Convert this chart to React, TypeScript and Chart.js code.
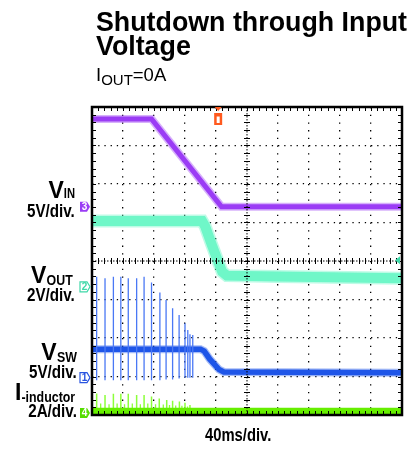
import React, { useEffect, useRef } from "react";
import { Chart, registerables } from "chart.js";
Chart.register(...registerables);

// ---- data (in scope divisions: x 0..10, y 0..8) ----
const vinX = [0, 1.92, 4.18, 10];
const vinY = [7.69, 7.69, 5.41, 5.41];

const voutX = [0, 3.55, 3.65, 3.85, 4.06, 4.2, 4.35, 6, 10];
const voutY = [5.04, 5.04, 4.9, 4.45, 4.0, 3.72, 3.62, 3.6, 3.55];

const vswX = [0, 3.5, 3.62, 3.8, 4.1, 4.25, 10];
const vswY = [1.71, 1.71, 1.66, 1.45, 1.18, 1.12, 1.1];

const vswSpikeX = [0.15, 0.42, 0.69, 0.93, 1.17, 1.44, 1.68, 1.92, 2.19, 2.39, 2.6, 2.81, 3.0, 3.09, 3.16, 3.25];
const vswSpikeTop = [3.59, 3.55, 3.59, 3.59, 3.55, 3.55, 3.59, 3.44, 3.18, 2.99, 2.77, 2.6, 2.38, 2.21, 2.1, 2.08];
const vswSpikeBottom = [0.9, 0.9, 0.9, 0.9, 0.9, 0.9, 0.9, 0.9, 0.9, 0.92, 0.92, 0.95, 0.97, 0.97, 0.97, 0.97];

const ilX = [0, 10];
const ilY = [0.1, 0.1];
const ilSpikeX = [0.15, 0.42, 0.69, 0.93, 1.17, 1.44, 1.68, 1.92, 2.17, 2.41, 2.6, 2.82, 3.0, 3.16];
const ilSpikeTop = [0.56, 0.52, 0.55, 0.55, 0.55, 0.52, 0.52, 0.48, 0.43, 0.39, 0.37, 0.35, 0.32, 0.26];
const ilSmallX = [0.28, 0.55, 0.81, 1.05, 1.3, 1.56, 1.8, 2.05, 2.3, 2.5, 2.7, 2.9, 3.08];
const ilSmallTop = [0.3, 0.28, 0.3, 0.28, 0.3, 0.28, 0.3, 0.28, 0.27, 0.26, 0.25, 0.24, 0.22];

// channel ground markers (y in divisions) and trigger position
const markerLabels = ["3", "2", "1", "4"];
const markerY = [5.41, 3.33, 0.97, 0.05];
const markerColors = ["#9b3cf5", "#3fd8a8", "#2a55e0", "#55dd00"];
const markerFilled = [true, false, false, true];
const triggerX = 4.07;
const trigLevelY = 4.02;

const PURPLE = "#9b3cf5";
const TEAL = "#6ff7c8";
const BLUE = "#1f55e8";
const BLUE_SPIKE = "#4a78f5";
const GREEN = "#66ee00";
const GREEN_SPIKE = "#8cff3a";

const zip = (xs: number[], ys: number[]) => xs.map((x, i) => ({ x, y: ys[i] }));
const spikes = (xs: number[], bot: number[] | number, top: number[]) => {
  const out: any[] = [];
  xs.forEach((x, i) => {
    out.push({ x, y: Array.isArray(bot) ? bot[i] : bot });
    out.push({ x, y: top[i] });
    out.push({ x, y: null });
  });
  return out;
};

const FONT = '"Liberation Sans", Arial, Helvetica, sans-serif';
const COND = 0.8;

const scopePlugin = {
  id: "scope",
  afterDraw(chart: any) {
    const { ctx, chartArea: a, scales } = chart;
    const xs = scales.x, ys = scales.y;
    ctx.save();
    ctx.strokeStyle = "#000";
    ctx.lineWidth = 1;
    const cx = xs.getPixelForValue(5);
    const cy = ys.getPixelForValue(4);
    ctx.setLineDash([1.5, 1.5]);
    ctx.beginPath();
    ctx.moveTo(cx, a.top); ctx.lineTo(cx, a.bottom);
    ctx.moveTo(a.left, cy); ctx.lineTo(a.right, cy);
    ctx.stroke();
    ctx.setLineDash([]);
    ctx.beginPath();
    for (let v = 0.2; v < 8; v += 0.2) {
      const py = Math.round(ys.getPixelForValue(v)) + 0.5;
      ctx.moveTo(cx - 3, py); ctx.lineTo(cx + 3, py);
      ctx.moveTo(a.left, py); ctx.lineTo(a.left + 4, py);
      ctx.moveTo(a.right - 4, py); ctx.lineTo(a.right, py);
    }
    for (let v = 0.2; v < 10; v += 0.2) {
      const px = Math.round(xs.getPixelForValue(v)) + 0.5;
      ctx.moveTo(px, cy - 3); ctx.lineTo(px, cy + 3);
      ctx.moveTo(px, a.top); ctx.lineTo(px, a.top + 4);
      ctx.moveTo(px, a.bottom - 4); ctx.lineTo(px, a.bottom);
    }
    ctx.stroke();
    ctx.lineWidth = 2.5;
    ctx.strokeRect(a.left, a.top, a.right - a.left, a.bottom - a.top);

    ctx.font = `bold 10px ${FONT}`;
    ctx.textAlign = "center";
    ctx.textBaseline = "middle";
    markerY.forEach((v, i) => {
      const py = ys.getPixelForValue(v);
      const x0 = a.left - 12, x1 = a.left - 5, tip = a.left - 2;
      ctx.beginPath();
      ctx.moveTo(x0, py - 5); ctx.lineTo(x1, py - 5); ctx.lineTo(tip, py);
      ctx.lineTo(x1, py + 5); ctx.lineTo(x0, py + 5); ctx.closePath();
      ctx.lineWidth = 1.2;
      if (markerFilled[i]) {
        ctx.fillStyle = markerColors[i]; ctx.fill();
        ctx.fillStyle = "#ffffff";
      } else {
        ctx.fillStyle = "#ffffff"; ctx.fill();
        ctx.strokeStyle = markerColors[i]; ctx.stroke();
        ctx.fillStyle = markerColors[i];
      }
      ctx.fillText(markerLabels[i], x0 + 4.5, py + 0.5);
    });

    const tx = xs.getPixelForValue(triggerX);
    ctx.fillStyle = "#ff5a1f";
    ctx.beginPath();
    ctx.moveTo(tx - 3.5, a.top); ctx.lineTo(tx + 3.5, a.top); ctx.lineTo(tx, a.top + 4); ctx.closePath();
    ctx.fill();
    ctx.fillRect(tx - 4, a.top + 6, 8, 12);
    ctx.fillStyle = "#ffffff";
    ctx.fillRect(tx - 1.5, a.top + 9, 3, 7);
    ctx.fillStyle = "#ff5a1f";
    ctx.fillRect(tx - 2.5, a.top + 8, 5, 1.5);

    const ly = ys.getPixelForValue(trigLevelY);
    ctx.fillStyle = "#3fd8a8";
    ctx.beginPath();
    ctx.moveTo(a.right - 2, ly - 4); ctx.lineTo(a.right - 7, ly); ctx.lineTo(a.right - 2, ly + 4); ctx.closePath();
    ctx.fill();
    ctx.restore();
  },
};

function Txt({ x, base, size, bold = true, align = "left", scale = 1, children }: any) {
  const style: any = {
    position: "absolute",
    top: base - 0.8465 * size,
    fontSize: size,
    lineHeight: `${size}px`,
    fontWeight: bold ? 700 : 400,
    fontFamily: FONT,
    whiteSpace: "nowrap",
    color: "#000",
  };
  if (align === "left") style.left = x;
  else style.right = 418 - x;
  if (scale !== 1) {
    style.transform = `scaleX(${scale})`;
    style.transformOrigin = align === "left" ? "left center" : "right center";
  }
  return <div style={style}>{children}</div>;
}

// em widths (Arial/Liberation Sans Bold) of the condensed subscripts
const SUB_EM: Record<string, number> = { IN: 1.0, OUT: 2.111, SW: 1.611, "-inductor": 4.333 };

function ChanLabel({ right, base, main, sub, subSize, shift }: any) {
  const w = SUB_EM[sub] * subSize * COND;
  return (
    <>
      <Txt x={right - w} base={base} size={23} align="right">{main}</Txt>
      <Txt x={right} base={base + shift} size={subSize} align="right" scale={COND}>{sub}</Txt>
    </>
  );
}

export default function App() {
  const ref = useRef<HTMLCanvasElement>(null);
  useEffect(() => {
    const c = ref.current!;
    const line = (data: any[], color: string, width: number, extra: any = {}) => ({
      data, borderColor: color, borderWidth: width, pointRadius: 0, fill: false,
      tension: 0, spanGaps: false, borderCapStyle: "butt", ...extra,
    });
    const chart = new Chart(c, {
      type: "line",
      data: {
        datasets: [
          line(zip(ilX, ilY), GREEN, 7),
          line(spikes(ilSmallX, 0.1, ilSmallTop), GREEN_SPIKE, 1.3),
          line(spikes(ilSpikeX, 0.1, ilSpikeTop), GREEN_SPIKE, 1.5),
          line(zip(vinX, vinY), "rgba(155,60,245,0.4)", 8),
          line(zip(vinX, vinY), PURPLE, 5),
          line(zip(voutX, voutY), "rgba(111,247,200,0.45)", 13),
          line(zip(voutX, voutY), TEAL, 10),
          line(spikes(vswSpikeX, vswSpikeBottom, vswSpikeTop), BLUE_SPIKE, 1.3),
          line(zip(vswX, vswY), "rgba(31,85,232,0.4)", 8),
          line(zip(vswX, vswY), BLUE, 5.5),
        ] as any,
      },
      options: {
        animation: false,
        responsive: false,
        events: [],
        layout: { padding: { left: 92, top: 107, right: 16, bottom: 34 } },
        plugins: { legend: { display: false }, tooltip: { enabled: false }, title: { display: false } },
        scales: {
          x: {
            type: "linear", min: 0, max: 10, z: 1,
            ticks: { display: false, stepSize: 1 },
            grid: {
              drawTicks: false, lineWidth: 1.3,
              color: (ctx: any) => (ctx.tick && (ctx.tick.value === 0 || ctx.tick.value === 5 || ctx.tick.value === 10) ? "rgba(0,0,0,0)" : "#000"),
            },
            border: { display: false, dash: [1.3, 6.4] },
          },
          y: {
            type: "linear", min: 0, max: 8, z: 1,
            ticks: { display: false, stepSize: 1 },
            grid: {
              drawTicks: false, lineWidth: 1.3,
              color: (ctx: any) => (ctx.tick && (ctx.tick.value === 0 || ctx.tick.value === 4 || ctx.tick.value === 8) ? "rgba(0,0,0,0)" : "#000"),
            },
            border: { display: false, dash: [1.3, 4.9] },
          },
        },
      } as any,
      plugins: [scopePlugin],
    });
    return () => chart.destroy();
  }, []);

  return (
    <div style={{ position: "absolute", left: 0, top: 0, width: 418, height: 449, background: "#fff" }}>
      <canvas ref={ref} width={418} height={449} style={{ position: "absolute", left: 0, top: 0, width: 418, height: 449 }} />
      <Txt x={96} base={31.7} size={26.8}>Shutdown through Input</Txt>
      <Txt x={96} base={55.5} size={26.8}>Voltage</Txt>
      <Txt x={96} base={81.7} size={18.5} bold={false}>
        I<span style={{ fontSize: 15, verticalAlign: "-4.3px", lineHeight: 1 }}>OUT</span>=0A
      </Txt>

      <ChanLabel right={75} base={198} main="V" sub="IN" subSize={14} shift={0} />
      <Txt x={75} base={217} size={19} align="right" scale={COND}>5V/div.</Txt>
      <ChanLabel right={72.5} base={283} main="V" sub="OUT" subSize={15.5} shift={1.7} />
      <Txt x={75} base={301.5} size={19} align="right" scale={COND}>2V/div.</Txt>
      <ChanLabel right={76.5} base={360} main="V" sub="SW" subSize={15.5} shift={1.7} />
      <Txt x={76.5} base={378} size={19} align="right" scale={COND}>5V/div.</Txt>
      <ChanLabel right={75} base={400} main="I" sub="-inductor" subSize={15.5} shift={2} />
      <Txt x={76.5} base={417} size={19} align="right" scale={COND}>2A/div.</Txt>

      <Txt x={205} base={441.5} size={18.5} scale={COND}>40ms/div.</Txt>
    </div>
  );
}
